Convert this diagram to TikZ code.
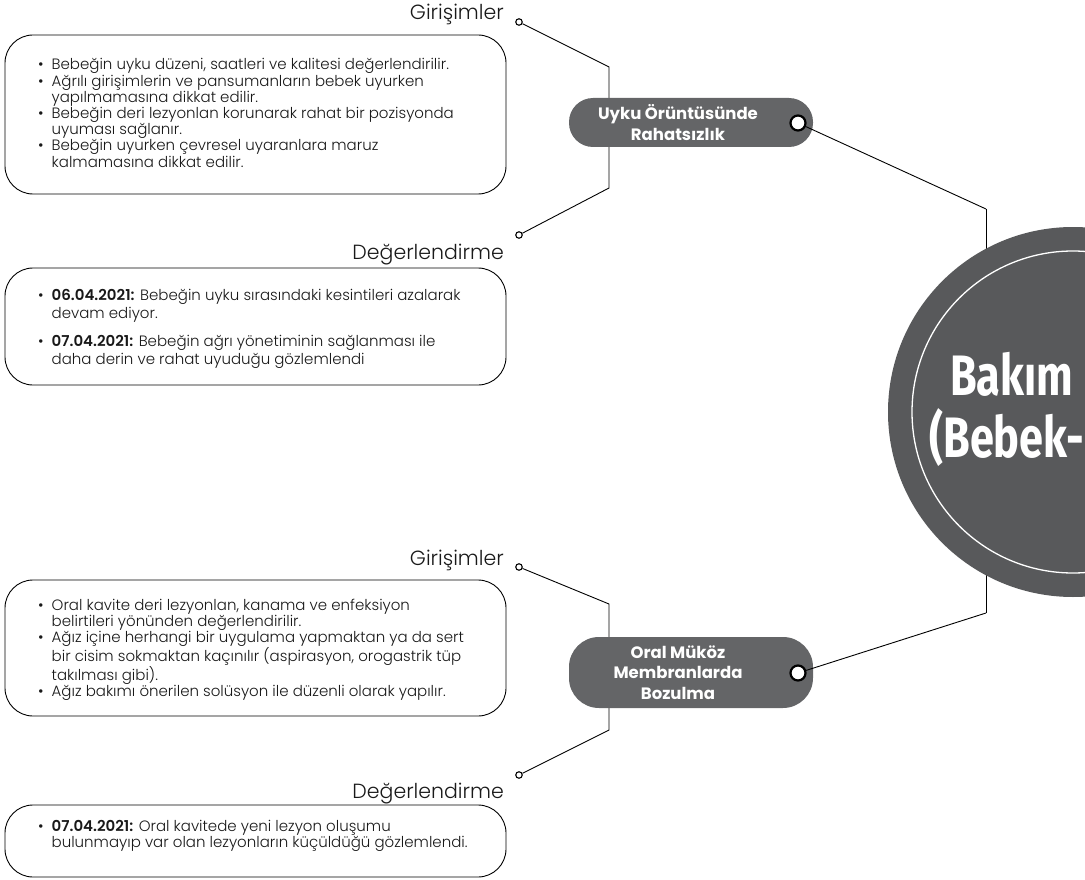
\documentclass[tikz,border=0pt]{standalone}
\usepackage{fontspec}
\IfFontExistsTF{Poppins Light}{%
  \IfFontExistsTF{Poppins SemiBold}
    {\setmainfont{Poppins Light}[BoldFont={Poppins SemiBold}]}
    {\setmainfont{Poppins Light}[BoldFont={Poppins}]}%
}{\setmainfont{Poppins}}
\IfFontExistsTF{Poppins Bold}
  {\newfontfamily\topicfont{Poppins Bold}}
  {\newfontfamily\topicfont{Poppins}[UprightFeatures={FakeBold=2}]}
\newfontfamily\corefont{Fira Sans}
\usetikzlibrary{calc}

\definecolor{nodegray}{HTML}{646567}
\definecolor{coregray}{HTML}{58595B}

\tikzset{
  wire/.style={draw=black, line width=0.9pt},
  notebox/.style={draw=black, line width=0.9pt, rounded corners=28pt},
  topicnode/.style={fill=nodegray, rounded corners=24pt, text=white, align=center,
    font=\topicfont\fontsize{16.5}{20.5}\selectfont},
  portdot/.style={circle, draw=black, fill=white, line width=2.2pt, inner sep=0pt, minimum size=15pt},
  tipdot/.style={circle, draw=black, fill=white, line width=1.1pt, inner sep=0pt, minimum size=6.5pt},
  heading/.style={anchor=base east, inner sep=0pt, font=\fontsize{20.5}{24}\selectfont, text=black!90},
  listtext/.style={anchor=base west, inner sep=0pt, align=left, text=black!90,
    font=\fontsize{15}{16.2}\selectfont},
  coretext/.style={anchor=base west, inner sep=0pt, text=white,
    font=\corefont\bfseries\fontsize{57}{60}\selectfont}
}

\newcommand{\bul}{\textbullet}

\begin{document}
\begin{tikzpicture}[x=1pt, y=-1pt]
\useasboundingbox (0,0) rectangle (1085,880);

% --- central disc -----------------------------------------------------
\coordinate (jtop) at (986,209);
\coordinate (jbot) at (986,613);
\coordinate (jtopin) at (986,300);
\coordinate (jbotin) at (986,560);
\draw[wire] (jtop) -- (jtopin);
\draw[wire] (jbot) -- (jbotin);
\node[circle, fill=coregray, inner sep=0pt, minimum size=370pt] (core) at (1073,412) {};
\draw[white, line width=1.3pt] (core.center) circle (161);
\node[coretext] (core1) at (950,395) {\scalebox{0.76}[1]{Bakım}};
\node[coretext] (core2) at (929,457) {\scalebox{0.76}[1]{(Bebek-}};

% --- upper branch -------------------------------------------------------
\coordinate (ua) at (609,67);
\coordinate (ub) at (609,188);
\node[tipdot] (ug) at (519,22) {};
\node[tipdot] (ud) at (519,235) {};
\draw[wire] (ug) -- (ua) -- (ub) -- (ud);
\node[topicnode, minimum width=244pt, minimum height=49pt] (topic1) at (691,122.5) {};
\node[topicnode, fill=none] (topic1txt) at (678,122.5) {Uyku Örüntüsünde\\Rahatsızlık};
\node[portdot] (port1) at (798,123) {};
\draw[wire] (port1) -- (jtop);

\node[heading] (h1) at (504,20) {Girişimler};
\node[heading] (h2) at (504,259) {Değerlendirme};

\draw[notebox] (5,35) rectangle (506,194);
\node[listtext] (list1) at (38,70) {%
\begin{tabular}[t]{@{}l@{\hspace{8pt}}l@{}}
\bul & Bebeğin uyku düzeni, saatleri ve kalitesi değerlendirilir.\\
\bul & Ağrılı girişimlerin ve pansumanların bebek uyurken\\
     & yapılmamasına dikkat edilir.\\
\bul & Bebeğin deri lezyonlan korunarak rahat bir pozisyonda\\
     & uyuması sağlanır.\\
\bul & Bebeğin uyurken çevresel uyaranlara maruz\\
     & kalmamasına dikkat edilir.
\end{tabular}};

\draw[notebox] (5,268) rectangle (506,385);
\node[listtext, font=\fontsize{15}{18}\selectfont] (list2) at (38,300) {%
\begin{tabular}[t]{@{}l@{\hspace{8pt}}l@{}}
\bul & \textbf{06.04.2021:} Bebeğin uyku sırasındaki kesintileri azalarak\\
     & devam ediyor.\\[10pt]
\bul & \textbf{07.04.2021:} Bebeğin ağrı yönetiminin sağlanması ile\\
     & daha derin ve rahat uyuduğu gözlemlendi
\end{tabular}};

% --- lower branch -------------------------------------------------------
\coordinate (la) at (609,604);
\coordinate (lb) at (609,730);
\node[tipdot] (lg) at (519,567) {};
\node[tipdot] (ld) at (519,775) {};
\draw[wire] (lg) -- (la) -- (lb) -- (ld);
\node[topicnode, rounded corners=30pt, minimum width=244pt, minimum height=71pt] (topic2) at (691,672.5) {};
\node[topicnode, fill=none] (topic2txt) at (678,672.5) {Oral Müköz\\Membranlarda\\Bozulma};
\node[portdot] (port2) at (798,673) {};
\draw[wire] (port2) -- (jbot);

\node[heading] (h3) at (504,565) {Girişimler};
\node[heading] (h4) at (504,798) {Değerlendirme};

\draw[notebox] (5,580) rectangle (506,716);
\node[listtext] (list3) at (38,610) {%
\begin{tabular}[t]{@{}l@{\hspace{8pt}}l@{}}
\bul & Oral kavite deri lezyonlan, kanama ve enfeksiyon\\
     & belirtileri yönünden değerlendirilir.\\
\bul & Ağız içine herhangi bir uygulama yapmaktan ya da sert\\
     & bir cisim sokmaktan kaçınılır (aspirasyon, orogastrik tüp\\
     & takılması gibi).\\
\bul & Ağız bakımı önerilen solüsyon ile düzenli olarak yapılır.
\end{tabular}};

\draw[notebox] (5,805) rectangle (506,877);
\node[listtext] (list4) at (38,831) {%
\begin{tabular}[t]{@{}l@{\hspace{8pt}}l@{}}
\bul & \textbf{07.04.2021:} Oral kavitede yeni lezyon oluşumu\\
     & bulunmayıp var olan lezyonların küçüldüğü gözlemlendi.
\end{tabular}};
\end{tikzpicture}
\end{document}
